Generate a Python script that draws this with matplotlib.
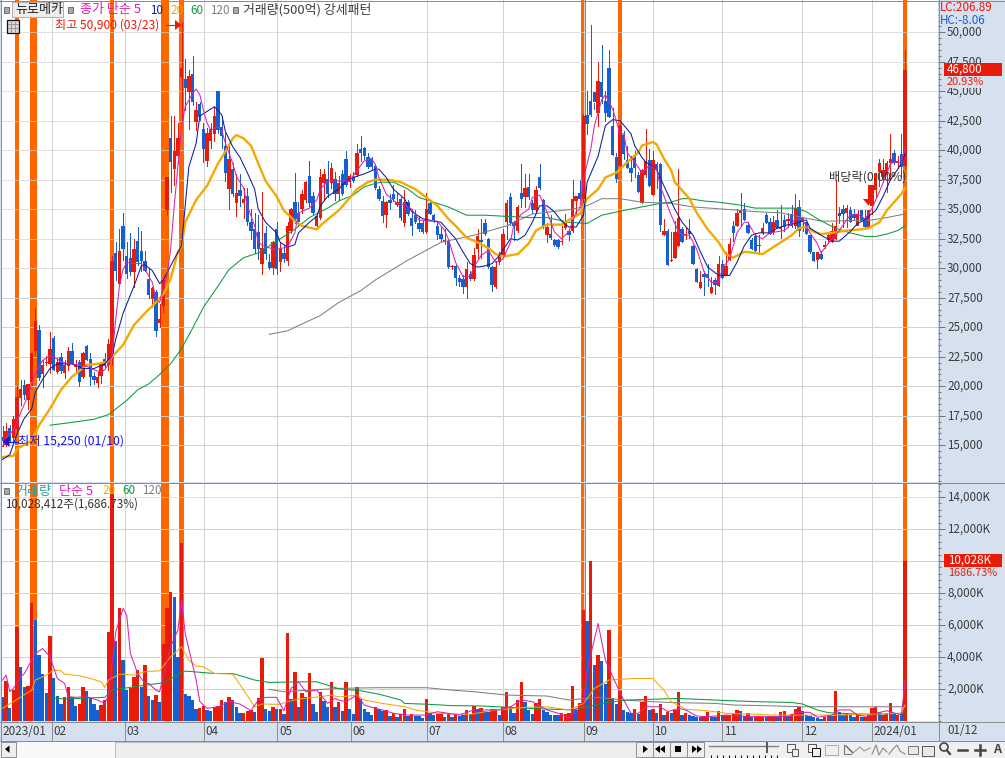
import matplotlib
matplotlib.use("Agg")
import matplotlib.pyplot as plt
from matplotlib.patches import Rectangle, Polygon
from matplotlib.transforms import ScaledTranslation

plt.rcParams['font.family'] = ['Noto Sans CJK KR', 'DejaVu Sans']

# candles, in hundreds of won
opens = [157,150,165,156,164,190,201,188,204,230, 248,210,220,219,241,212,225,211,217,230,
         216,221,208,234,223,209,203,209,223,218, 223,313,287,336,310,309,297,323,315,306,
         291,274,280,254,268,349,410,384,395,462, 460,449,465,424,439,418,391,408,414,450,
         420,404,367,384,355,366,355,361,339,333, 331,304,330,305,300,333,305,313,306,332,
         356,347,350,358,378,361,336,343,372,376, 372,376,363,380,393,373,377,379,401,402,
         394,393,387,367,357,345,358,363,354,359, 338,356,343,345,338,338,331,355,345,336,
         329,322,323,301,302,292,291,284,295,291, 316,324,338,325,301,284,305,311,339,360,
         339,332,364,360,369,355,349,377,358,328, 329,324,324,322,334,332,332,357,364,359,
         430,442,449,432,458,442,470,421,394,387, 413,392,385,396,379,355,379,392,362,388,
         388,328,332,306,309,319,333,328,332,319, 299,283,295,295,279,290,285,304,294,307,
         336,336,347,350,337,324,327,319,330,345, 339,331,341,333,341,340,346,336,352,340,
         339,328,314,307,312,318,324,322,325,347, 350,347,349,346,336,349,343,335,353,366,
         382,377,379,389,398,389,397,387]
highs = [166,169,167,175,200,205,205,202,228,266, 252,222,226,246,243,224,228,222,233,237,
         222,222,229,235,228,212,212,220,228,240, 310,322,333,347,322,330,325,335,332,315,
         299,284,282,270,290,377,429,429,423,509, 477,468,480,441,441,423,419,423,437,450,
         429,415,404,389,380,380,368,368,350,347, 345,365,336,312,323,339,322,320,339,351,
         381,356,366,374,391,365,347,384,384,391, 389,382,378,383,399,380,382,405,412,403,
         398,394,388,370,361,357,363,371,364,360, 366,358,350,349,344,340,364,356,346,340,
         336,333,324,303,303,294,294,305,298,317, 333,342,342,326,302,306,314,333,358,364,
         340,354,388,380,380,358,370,388,359,338, 345,325,325,336,346,333,375,361,375,431,
         450,506,440,475,489,450,485,436,398,422, 416,404,395,399,382,384,418,401,399,390,
         389,342,333,331,340,384,335,335,342,320, 300,298,298,304,293,292,310,307,314,326,
         340,350,364,355,339,326,330,328,338,347, 343,344,349,354,345,347,354,363,358,341,
         330,315,314,310,315,323,331,338,375,352, 354,354,352,350,349,347,349,346,370,372,
         393,393,391,414,400,395,414,485]
lows = [149,149,153,154,163,184,189,181,201,226, 205,199,218,211,214,211,211,207,214,219,
        212,200,207,222,201,202,199,203,216,214, 218,290,287,307,292,294,284,303,298,298,
        275,267,243,250,263,345,365,371,389,426, 434,418,438,417,426,390,387,402,408,415,
        402,374,350,361,344,353,343,337,325,313, 308,295,308,299,295,295,298,305,303,330,
        338,337,347,356,353,346,333,342,358,360, 368,358,358,362,370,369,373,378,391,393,
        385,384,367,358,339,335,350,357,353,341, 336,345,328,338,332,330,330,346,339,325,
        323,321,300,299,286,285,279,275,290,290, 309,309,328,300,281,283,304,310,325,337,
        324,331,352,352,359,347,347,367,334,322, 325,319,317,321,333,324,331,346,358,350,
        414,429,435,421,440,425,428,396,373,384, 393,385,374,377,365,355,377,370,362,368,
        332,328,303,306,309,319,322,325,326,304, 288,283,277,285,279,278,285,292,294,307,
        323,336,336,341,330,316,315,312,329,338, 329,329,334,326,332,335,335,334,327,332,
        329,313,306,300,308,317,322,322,325,338, 335,335,339,342,343,340,335,335,346,360,
        370,373,365,375,388,385,377,385]
closes = [154,162,154,172,191,198,193,202,228,255, 207,218,221,232,214,221,213,218,230,219,
          219,204,228,222,208,205,208,219,217,236, 306,298,315,316,295,297,316,305,306,298,
          277,283,247,257,290,377,390,399,410,470, 453,463,441,434,428,401,415,418,429,417,
          412,381,393,363,364,361,359,339,332,316, 316,317,312,300,322,299,316,308,336,350,
          342,339,363,373,355,347,344,377,380,363, 385,363,372,363,371,378,374,398,398,395,
          386,386,368,359,344,356,355,359,356,343, 356,346,336,339,333,331,350,346,341,328,
          325,324,301,302,292,288,284,299,291,311, 327,322,329,301,286,301,311,329,355,338,
          336,352,359,368,360,349,366,368,335,335, 326,320,318,323,339,328,359,361,359,429,
          422,430,441,459,445,432,428,396,376,421, 397,385,381,385,365,383,391,370,392,383,
          337,332,303,307,331,343,322,329,329,304, 288,288,293,292,284,286,304,292,302,321,
          330,347,349,341,330,316,315,320,334,338, 329,339,334,335,335,342,336,351,332,343,
          329,314,306,314,308,320,328,332,336,344, 346,351,339,343,346,340,335,349,371,381,
          389,383,389,393,389,391,386,468]

# volume in thousands of shares, with the colour of each bar
volumes = [1520,2500,830,1930,5890,3390,2140,2180,7380,6300,
           4120,2930,1770,5300,2700,1560,1060,1480,2100,1520,
           940,1060,2120,1870,1410,1060,690,1000,1310,5550,
           14200,4990,7090,3810,1930,2080,2770,3180,2140,3490,
           1560,1310,1620,1210,4800,7070,8050,7760,4010,11100,
           1710,1560,1310,750,810,960,690,600,890,940,
           1310,1190,1520,1310,890,520,520,640,690,580,
           1460,3930,750,620,890,770,750,460,5490,1370,
           3060,890,1770,1520,3000,1060,580,1830,1250,890,
           2430,890,1210,640,2430,750,440,2140,1350,750,
           560,370,850,730,600,690,310,520,270,420,
           750,310,420,330,330,190,1370,520,370,440,
           440,250,440,270,370,330,370,690,420,940,
           750,830,640,540,750,750,370,890,1810,790,
           520,1310,2430,1210,690,440,1100,1370,690,580,
           370,370,370,480,440,480,2200,700,1100,6920,
           6270,9970,3510,4140,3760,2320,5710,1420,1070,1900,
           690,550,480,750,440,1210,1560,690,750,520,
           1060,370,580,520,690,1810,370,520,370,310,
           270,270,310,580,270,270,620,350,370,370,
           440,690,620,310,480,270,310,310,270,270,
           310,310,270,580,620,330,440,750,890,620,
           370,330,270,170,120,270,310,310,1870,580,
           370,480,370,270,370,270,270,370,810,890,
           580,370,480,1120,440,370,480,10028]
vol_colors = ("brbrrbbrrb" "bbbrbbbrrb" "brrbbbbrrr" "rbrbbrrrbr" "bbrbrrrbbr"
              "bbbbrrbbrr" "rbrbbbrrrb" "rrbbrbrbrb" "rbrbrbbrbb" "rbrbrbbrbb"
              "bbrbbrbrbr" "rbrbbbrbbr" "rbrbrbbrbr" "brbbrrbrrb" "brrbbbrrbb"
              "bbbrrrrbrr" "brbrbbrbbr" "bbbrbrrbrb" "rbrbrrbrbb" "bbrrbbrbrr"
              "rrbbrbrrrb" "rrbrrbrrrb" "bbbbbrrbrb" "brbbrbrrrr" "brrrbrbr")

# moving averages of the price, read as (bar, value)
ma5_x = [0,1,3,5,7,8,9,11,13,14,16,18,19,21,23,25,27,28,29,30,31,32,33,34,36,38,39,41,42,43,44,45,46,47,48,49,
         50,52,53,54,55,56,57,59,60,61,63,64,66,67,69,70,72,75,78,80,81,84,86,87,89,92,95,97,99,101,102,103,105,
         108,110,112,114,117,119,121,122,124,126,128,129,131,133,135,137,139,140,142,144,145,147,149,151,153,155,
         157,158,159,161,162,164,165,167,169,170,171,173,175,177,179,180,182,183,185,186,188,190,192,194,196,197,
         199,201,203,204,206,208,210,214,216,217,219,221,223,224,226,227,229,231,232,234,236,237,238,240,242,243,
         245,246,247]
ma5_y = [149,156,163,178,192,202,211,222,226,225,221,219,219,218,217,214,212,214,219,226,257,285,299,305,304,304,299,288,274,271,283,294,316,353,387,420,
         437,448,452,447,434,423,417,420,417,406,389,378,368,353,336,322,318,316,318,330,347,351,358,367,374,374,374,383,391,393,388,377,363,
         355,354,350,341,340,340,332,325,305,293,293,301,311,315,305,308,322,338,346,350,360,362,348,331,325,331,
         348,350,376,401,421,443,447,435,414,414,398,390,381,387,384,370,353,345,331,328,328,316,297,288,288,300,
         308,330,339,339,328,325,330,332,338,342,341,330,321,313,321,325,332,341,345,346,342,346,351,365,380,389,
         390,389,402]
ma10_x = [0,2,4,6,8,9,11,13,15,17,19,22,25,28,30,31,33,36,38,39,41,43,44,47,49,50,51,53,54,56,58,60,61,63,65,67,69,70,72,75,76,78,80,81,84,86,87,89,92,
          94,96,99,102,103,105,107,110,112,115,118,120,122,124,126,128,130,132,134,136,139,141,143,145,147,149,151,153,155,157,159,160,163,165,167,169,
          172,173,175,176,179,181,184,186,189,191,193,196,199,201,203,205,207,210,212,215,217,220,221,224,227,229,232,234,236,237,239,241,243,245,246,247]
ma10_y = [138,142,160,173,181,195,206,215,219,219,219,215,215,219,226,240,262,285,302,303,298,287,290,308,319,353,386,406,429,433,437,430,416,403,394,381,367,350,339,330,322,318,320,330,339,344,353,361,367,
          374,377,380,384,384,377,367,359,348,342,340,339,332,325,314,304,301,302,304,311,325,324,328,339,353,353,348,340,335,335,345,373,395,421,426,425,
          414,404,394,390,384,370,350,339,328,314,301,294,294,305,319,328,330,330,334,337,338,341,334,328,323,323,331,338,341,344,349,361,375,384,389,397]
ma20_x = [0,3,4,8,10,13,16,19,23,26,29,30,33,36,39,41,44,46,48,49,50,53,56,59,61,63,64,66,68,70,72,75,77,80,82,86,88,90,92,94,97,100,102,106,109,113,116,119,122,124,127,130,133,135,137,141,144,146,149,153,155,158,
          160,163,165,168,171,174,175,178,179,181,183,184,188,190,193,196,198,200,203,206,208,211,213,216,218,220,222,224,227,231,235,237,240,242,244,246,247]
ma20_y = [140,141,147,154,167,181,197,208,218,219,221,225,235,252,262,268,278,291,314,318,339,358,370,389,399,410,413,410,404,389,374,361,349,340,336,333,339,344,349,356,367,373,375,375,373,367,360,353,342,336,326,322,317,312,310,312,321,332,337,337,341,346,
          359,367,377,381,390,398,404,407,405,393,383,373,359,347,333,322,312,309,314,313,312,318,322,328,334,335,331,329,330,332,333,334,339,349,356,363,368]
ma60_x = [13,18,25,29,34,37,40,43,46,49,52,55,59,62,66,70,75,80,84,89,92,96,99,102,104,107,111,114,118,122,127,132,138,144,149,155,160,164,170,175,180,183,186,188,192,196,201,206,213,217,220,223,226,228,232,236,239,242,245,247]
ma60_y = [167,169,172,176,188,197,202,210,219,232,249,267,285,299,309,313,323,333,343,351,357,362,369,372,373,373,367,360,356,352,345,345,344,343,343,339,338,345,349,352,355,356,359,359,357,356,354,351,351,351,348,342,337,334,330,327,327,329,332,336]
ma120_x = [73,78,80,87,92,98,102,111,120,129,138,145,153,156,160,164,169,175,183,189,198,206,213,219,224,227,238,242,247]
ma120_y = [244,247,250,260,271,281,290,307,322,328,336,346,349,350,353,359,359,356,355,352,350,348,347,343,340,340,341,343,346]

# moving averages of the volume, read as (bar, thousands)
vma5_x = [0,1,2,3,5,6,8,9,11,13,15,17,18,20,23,26,28,29,30,31,33,34,35,37,39,40,42,43,44,46,48,49,50,53,54,56,59,62,65,68,70,72,75,77,79,81,83,86,89,91,
          92,94,97,99,102,104,107,111,114,116,119,122,125,129,133,136,139,142,145,149,153,155,157,159,160,163,165,167,170,172,174,176,180,182,185,187,190,193,198,205,211,216,217,221,223,227,229,232,234,237,239,242,246,247]
vma5_y = [2560,2870,1830,2040,2770,2970,3810,4220,4530,4010,2660,2350,1520,1480,1520,1310,1100,1620,3600,5570,7030,6610,4220,2970,2350,2350,1930,1830,2770,4640,5680,7550,5470,2560,1210,790,890,1210,1060,640,1310,1480,1480,640,2040,2450,1830,1930,1100,1410,
          1310,1210,1620,1000,790,690,480,370,370,370,580,480,370,690,690,690,890,1310,1210,690,420,170,790,890,3180,6090,3810,2770,1310,480,480,890,890,580,790,690,310,270,370,270,270,310,540,540,230,370,690,690,370,270,480,640,370,2460]
vma20_x = [0,3,8,9,12,14,16,17,21,24,27,28,29,32,36,39,43,46,49,51,53,55,58,63,66,69,71,76,78,81,87,90,92,97,99,104,110,113,119,128,135,143,149,155,159,162,166,173,178,181,183,187,193,198,205,211,228,246,247]
vma20_y = [790,1210,1930,2560,2870,3180,3140,2930,2830,2660,2450,2100,2560,2930,2870,3080,3140,4010,4640,3810,3430,3390,2970,2930,1930,890,1060,1040,1210,1370,1520,1620,1500,1620,1310,1100,890,690,480,420,690,850,890,690,1100,2040,2560,2660,2660,1930,1210,730,640,480,430,370,370,480,1000]
vma60_x = [13,17,28,30,36,44,49,50,58,63,69,73,81,86,92,98,103,109,110,117,123,131,144,156,160,165,171,185,191,199,206,216,219,223,226,233,238,246,247]
vma60_y = [1460,1370,1480,1930,2140,2390,3020,3120,2970,2970,2560,2410,2450,2450,2020,1890,1680,1310,1100,1040,960,940,790,690,890,1140,1310,1410,1350,1270,1210,1160,1060,690,520,440,420,480,580]
vma120_x = [73,77,92,102,116,123,129,138,149,155,163,170,182,195,200,208,219,246,247]
vma120_y = [1980,1830,2040,2080,2080,1930,1830,1620,1560,1310,1480,1310,1160,1100,1000,960,890,890,890]

# bars flagged by the strong-pattern overlay, month starts on the bar scale
pattern_bars = [4, 8, 9, 30, 44, 45, 49, 159, 169, 247]
month_pos = [13.6, 33.5, 55.2, 75.2, 95.4, 116.1, 137, 159.2, 177.9, 197, 218.9, 237.9]
month_labels = ["02", "03", "04", "05", "06", "07", "08", "09", "10", "11", "12", "2024/01"]
price_ticks = list(range(15000, 50001, 2500))
volume_ticks = list(range(2000, 14001, 2000))

W, H = 1005, 758
RED = '#ea1a08'
BLUE = '#1560d0'
ORANGE = '#ff6600'
GOLD = '#f2aa00'
GREEN = '#0b9a3e'
MAGENTA = '#dc20b4'
NAVY = '#0a1e9c'
GRAY = '#808080'
DARK = '#3c3c3c'
STRIP = '#d6e1ef'
GRID = '#d2d2d2'
FS = 8.4
THIN = 0.5
BAR_W = 0.92

X0, XSTEP = 2.5, 3.654  # pixel of bar 0, pixels per bar


def panel(top, bottom):
    a = fig.add_axes([1 / W, 1 - bottom / H, 937 / W, (bottom - top) / H])
    a.set_xlim((1 - X0) / XSTEP, (938 - X0) / XSTEP)
    a.set_facecolor('white')
    for s in a.spines.values():
        s.set_visible(False)
    a.set_xticks(month_pos)
    a.grid(True, color=GRID, lw=THIN)
    a.tick_params(axis='x', length=0, labelbottom=False)
    a.set_axisbelow(False)
    for gl in a.get_xgridlines() + a.get_ygridlines():
        gl.set_antialiased(False)
        gl.set_zorder(1.5)
    a.yaxis.tick_right()
    a.tick_params(axis='y', which='major', length=5, width=0.7, color='#707070',
                  labelsize=FS, labelcolor=DARK, pad=1.5)
    a.tick_params(axis='y', which='minor', length=2.2, width=0.7, color='#707070')
    for b in pattern_bars:
        a.axvspan(b - 0.56, b + 0.56, color=ORANGE, lw=0, zorder=1)
    return a


def ma(a, xs, ys, color, lw):
    a.plot(xs, ys, color=color, lw=lw, zorder=5, solid_joinstyle='round')


fig = plt.figure(figsize=(W / 100, H / 100), dpi=100, facecolor=STRIP)

# price panel
ax1 = panel(0, 482)
ax1.set_ylim(50000 - (482 - 32.3) * 84.75, 50000 + 32.3 * 84.75)
ax1.set_yticks(price_ticks)
ax1.set_yticklabels([f"{t:,}" for t in price_ticks])
ax1.set_yticks(list(range(12000, 52501, 500)), minor=True)

idx = list(range(len(closes)))
up = [c >= o for o, c in zip(opens, closes)]
colors = [RED if u else BLUE for u in up]
ax1.vlines(idx, [v * 100 for v in lows], [v * 100 for v in highs], colors=colors,
           lw=THIN, antialiased=False, zorder=3)
bottoms = [min(o, c) * 100 for o, c in zip(opens, closes)]
heights = [max(abs(c - o) * 100, 100) for o, c in zip(opens, closes)]
ax1.bar(idx, heights, bottom=bottoms, width=BAR_W, color=colors, lw=0, antialiased=False, zorder=4)

ma(ax1, ma120_x, [v * 100 for v in ma120_y], GRAY, 0.75)
ma(ax1, ma60_x, [v * 100 for v in ma60_y], GREEN, 0.75)
ma(ax1, ma20_x, [v * 100 for v in ma20_y], GOLD, 1.7)
ma(ax1, ma10_x, [v * 100 for v in ma10_y], NAVY, 0.75)
ma(ax1, ma5_x, [v * 100 for v in ma5_y], MAGENTA, 0.75)

# volume panel
ax2 = panel(483, 721)
ax2.set_ylim(0, (721 - 483) * 62.5)
ax2.set_yticks(volume_ticks)
ax2.set_yticklabels([f"{t:,}K" for t in volume_ticks])
ax2.set_yticks(list(range(0, 14801, 400)), minor=True)
vcol = [RED if c == 'r' else BLUE for c in vol_colors]
ax2.bar(list(range(len(volumes))), volumes, width=BAR_W, color=vcol, lw=0, antialiased=False, zorder=3)
ma(ax2, vma120_x, vma120_y, GRAY, 0.75)
ma(ax2, vma60_x, vma60_y, GREEN, 0.75)
ma(ax2, vma20_x, vma20_y, GOLD, 0.75)
ma(ax2, vma5_x, vma5_y, MAGENTA, 0.75)

# tick labels sit a little above their ticks in the reference
for a in (ax1, ax2):
    for lab in a.get_yticklabels():
        lab.set_transform(lab.get_transform() + ScaledTranslation(0, 1 / 72, fig.dpi_scale_trans))

# month strip
ax3 = fig.add_axes([1 / W, 1 - 741 / H, 937 / W, 20 / H], facecolor=STRIP)
ax3.set_xlim(ax1.get_xlim())
ax3.set_ylim(0, 1)
ax3.axis('off')
ax3.vlines(month_pos, 0, 1, colors='#8c8c8c', lw=0.7)
for pos, lab in zip(month_pos, month_labels):
    ax3.text(pos + 0.45, 0.46, lab, color=DARK, fontsize=FS, va='center')
ax3.text(0.1, 0.46, "2023/01", color=DARK, fontsize=FS, va='center')

# window chrome and labels, in pixel coordinates
ui = fig.add_axes([0, 0, 1, 1], zorder=10)
ui.set_xlim(0, W)
ui.set_ylim(H, 0)
ui.axis('off')
ui.patch.set_alpha(0)


def txt(x, y, s, color=DARK, **kw):
    kw.setdefault('fontsize', FS)
    ui.text(x, y, s, color=color, va='center', zorder=6, **kw)


def box(x0, y0, x1, y1, fc, ec='none', lw=0.7, z=2):
    ui.add_patch(Rectangle((x0, y0), x1 - x0, y1 - y0, facecolor=fc, edgecolor=ec, lw=lw, zorder=z))


def tri(points, color):
    ui.add_patch(Polygon(points, facecolor=color, lw=0, zorder=4))


def frame_line(xs, ys, color='#8c8c8c', lw=0.7):
    ui.plot(xs, ys, color=color, lw=lw, antialiased=False, zorder=3)


frame_line([0, W], [482.5, 482.5])
frame_line([0, W], [721.5, 721.5])
frame_line([0, W], [741, 741])
frame_line([938.5, 938.5], [0, 741])
frame_line([0.5, 0.5], [0, 741])
frame_line([0, W], [0.5, 0.5])

# top legend
for sx in [6, 70, 235]:
    box(sx - 2.5, 7, sx + 2.5, 12.5, '#a8a8a8', '#707070')
box(12, 2, 63, 17, '#ececec', '#b0b0b0')
txt(15, 10, "뉴로메카", '#222222', fontsize=9.4)
txt(80, 10, "종가 단순 5", MAGENTA, fontsize=9.4)
txt(150, 10, "10", NAVY)
txt(170, 10, "20", GOLD)
txt(190, 10, "60", GREEN)
txt(210, 10, "120", GRAY)
txt(243, 10, "거래량(500억) 강세패턴", fontsize=9.3)

# table icon
box(7, 20, 19, 33, '#d8d8d8', '#111111', 0.9)
for gx in [11, 15]:
    ui.plot([gx, gx], [22, 32], color='#909090', lw=0.6, zorder=3)
for gy in [24, 28]:
    ui.plot([8, 18], [gy, gy], color='#909090', lw=0.6, zorder=3)

# high and low labels
txt(55, 25, "최고 50,900 (03/23)", RED, fontsize=8.7)
ui.plot([166, 176], [25, 25], color=RED, lw=0.8, zorder=4)
tri([(175, 20), (175, 30), (181.5, 25)], RED)
txt(18, 441.5, "최저 15,250 (01/10)", '#1414e0', fontsize=8.8)
ui.plot([8, 18], [441.5, 441.5], color='#1414e0', lw=0.9, zorder=4)
tri([(9.5, 436), (9.5, 447), (3, 441.5)], '#1414e0')

# dividend marker
txt(829, 177, "배당락(0.00%)", '#333333', fontsize=8.8)
box(867.5, 185, 870, 199, RED, z=4)
tri([(863, 199), (874, 199), (868.5, 205.5)], RED)

# volume legend
box(3.5, 488, 9, 494, '#a8a8a8', '#707070')
txt(15, 491, "거래량", '#2a9d9d', fontsize=9.4)
txt(59, 491, "단순 5", MAGENTA, fontsize=9.4)
txt(102, 491, "20", GOLD)
txt(122, 491, "60", GREEN)
txt(142, 491, "120", GRAY)
txt(5, 504, "10,028,412주(1,686.73%)", '#333333')

# right hand labels
box(940, 0, 1004, 26, STRIP, z=2)
txt(940, 7.5, "LC:206.89", RED)
txt(940, 20, "HC:-8.06", BLUE)
box(944, 63, 1002, 76, RED, z=2)
txt(947, 69.5, "46,800", 'white')
box(944, 76, 1002, 88, STRIP)
txt(947, 82, "20.93%", RED, fontsize=7.9)
box(944, 554, 1002, 567, RED)
txt(948, 560.5, "10,028K", 'white')
box(944, 567, 1002, 578, STRIP)
txt(948, 572.5, "1686.73%", RED, fontsize=7.8)
txt(947, 731, "01/12")

# toolbar
box(0, 742, W, 758, '#f0f0f0', z=1)
box(17, 742, 115, 758, '#f8f8f8')
box(115, 742, 636, 758, '#ededed', '#bcbcbc')
box(1, 742, 16, 757, '#eeeeee', '#909090')
tri([(9.5, 745.5), (9.5, 753), (5, 749)], 'black')
for bx in [636, 653, 670, 687]:
    box(bx, 742, bx + 17, 757, '#eeeeee', '#909090')
tri([(643, 745.5), (643, 753), (648, 749)], 'black')
tri([(660, 745.5), (660, 753), (655, 749)], 'black')
tri([(665, 745.5), (665, 753), (660, 749)], 'black')
box(675, 745.5, 681, 752, 'black', z=4)
tri([(692, 745.5), (692, 753), (697, 749)], 'black')
tri([(697, 745.5), (697, 753), (702, 749)], 'black')
ui.plot([709, 778], [746, 746], color='#808080', lw=1.0, zorder=3)
ui.plot([767, 767], [743, 752], color='#555555', lw=1.4, zorder=3)
ui.plot(list(range(711, 778, 6)), [757] * 12, ls='none', marker='|', ms=2.5, color='black', mew=0.7, zorder=3)
box(787, 744, 795, 752, '#f0f0f0', '#555555')
box(792, 749, 798, 756, '#f0f0f0', '#555555', z=3)
box(808, 744, 816, 752, '#f0f0f0', '#555555')
box(812, 748, 820, 756, '#f0f0f0', '#111111', z=3)
box(825, 745, 838, 755, '#f0f0f0', '#a0a0a0', 0.6)
ui.plot([844, 844, 851], [745, 754, 754], color='#777777', lw=0.8, zorder=3)
ui.plot([846, 853], [746, 753], color='#555555', lw=0.9, zorder=3)
ui.plot([854, 860, 864, 870], [752, 747, 751, 748], color='#999999', lw=0.8, zorder=3)
ui.plot([872, 876, 879, 883, 887], [754, 745, 755, 748, 752], color='#888888', lw=0.8, zorder=3)
ui.plot([889, 893, 897, 900, 905], [754, 749, 745, 751, 754], color='#888888', lw=0.8, zorder=3)
box(908, 746, 918, 754, '#e8e8e8', '#777777')
box(922, 746, 934, 756, '#e8e8e8', '#555555')
ui.plot([947, 950], [750.5, 754], color='#444444', lw=1.6, zorder=3)
ui.add_patch(plt.Circle((944, 747), 4, fill=False, edgecolor='#444444', lw=1.2, zorder=3))
ui.plot([958, 967], [750, 750], color='#444444', lw=1.8, zorder=3)
ui.plot([975, 985], [750, 750], color='#444444', lw=1.8, zorder=3)
ui.plot([980, 980], [745, 755], color='#444444', lw=1.8, zorder=3)
ui.text(997, 749.5, "A", color='#444444', fontsize=9, fontweight='bold', va='center', ha='center', zorder=6)

fig.savefig("out.png", dpi=100, facecolor=fig.get_facecolor())
